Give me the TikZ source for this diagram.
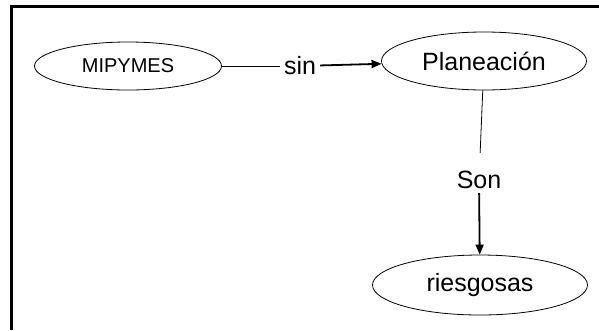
\documentclass[tikz,border=0pt]{standalone}
\usepackage{fontspec}
\setmainfont{Liberation Sans}
\usetikzlibrary{shapes.geometric,arrows.meta}
\tikzset{
  concepto/.style = {ellipse, draw, line width=0.8pt, inner sep=0pt, font=\fontsize{25}{30}\selectfont},
  enlace/.style = {inner sep=4pt, font=\fontsize{25}{30}\selectfont},
  flecha/.style = {line width=1.8pt, -{Triangle[length=10pt,width=8pt]}}
}
\begin{document}
\begin{tikzpicture}[x=1pt, y=-1pt]
\useasboundingbox (0,0) rectangle (599,330);
\draw[line width=3pt] (11,330) -- (11,6.5) -- (599,6.5);

\node[concepto, minimum width=187pt, minimum height=48pt, font=\fontsize{20}{24}\selectfont] (mipymes) at (128,66) {MIPYMES};
\node[concepto, minimum width=205pt, minimum height=58pt] (planeacion) at (484,61) {Planeación};
\node[concepto, minimum width=215pt, minimum height=60pt] (riesgosas) at (480,285) {riesgosas};

\node[enlace] (sin) at (300,66) {sin};
\node[enlace] (son) at (479,180) {Son};

\draw[line width=0.8pt] (mipymes) -- (sin);
\draw[flecha] (sin) -- (planeacion);
\draw[line width=0.8pt, shorten >=14pt] (planeacion) -- (son);
\draw[flecha] (son) -- (riesgosas);
\end{tikzpicture}
\end{document}
